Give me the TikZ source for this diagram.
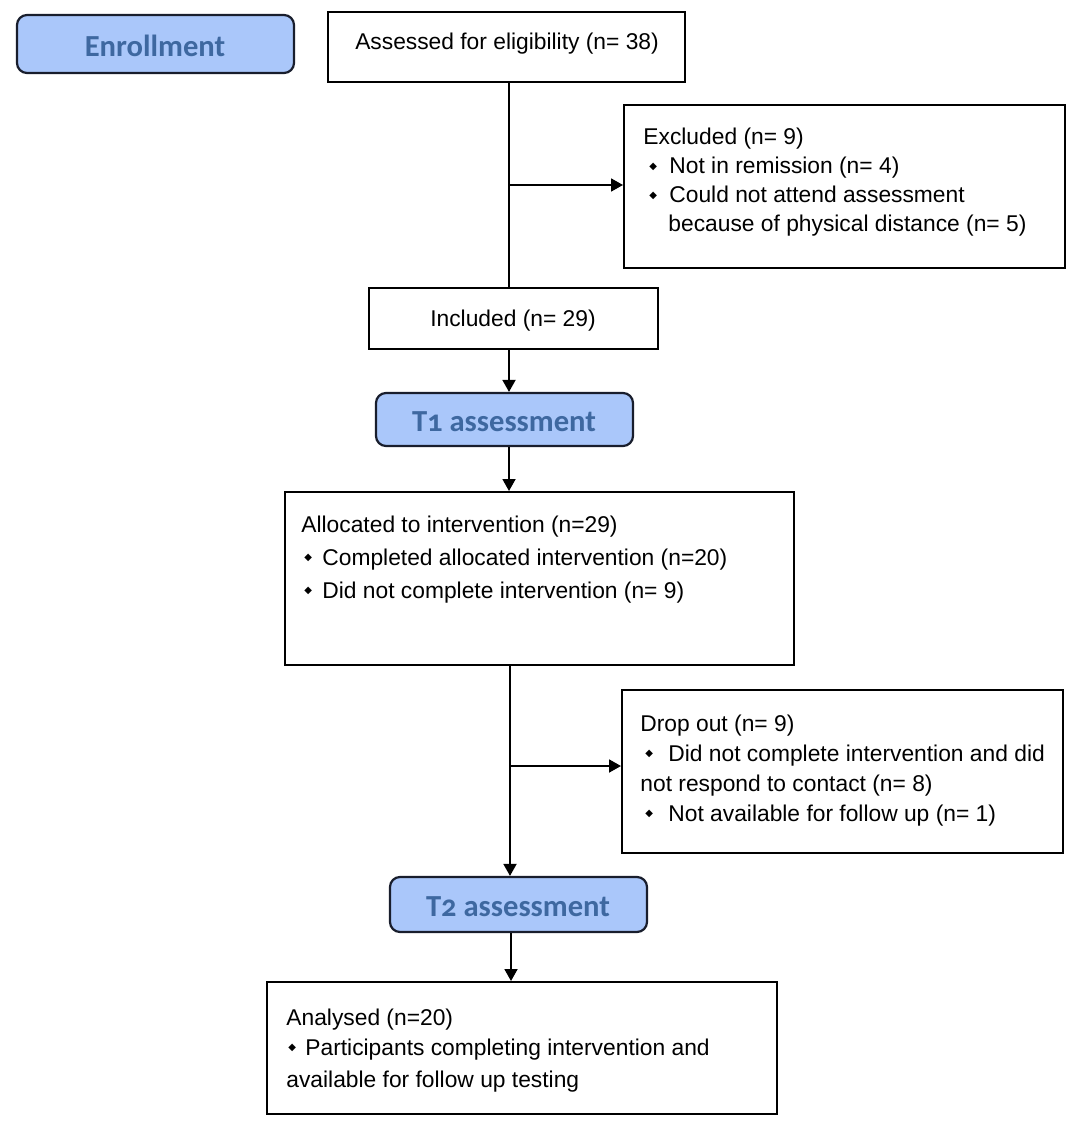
\documentclass[tikz,border=0pt]{standalone}
\usepackage{fontspec}
\setmainfont{Liberation Sans}
\newfontfamily\calib[Numbers=OldStyle]{Carlito}
\newfontfamily\symf{DejaVu Sans}
\usetikzlibrary{arrows.meta,fit}
\definecolor{bfill}{RGB}{170,199,250}
\definecolor{btext}{RGB}{62,104,160}
\definecolor{bdraw}{RGB}{25,30,45}
\newcommand{\dbul}[1]{\makebox[#1][l]{\raisebox{2.4pt}{\symf\fontsize{5}{5}\selectfont ◆}}}
\begin{document}
\begin{tikzpicture}[x=0.5pt,y=-0.5pt,
  box/.style={draw=black, line width=1pt, inner sep=0pt},
  bluebox/.style={draw=bdraw, fill=bfill, line width=1.1pt, rounded corners=5pt, inner sep=0pt},
  btxt/.style={inner sep=0pt, anchor=center, text=btext, font=\calib\bfseries\fontsize{15.3}{18}\selectfont},
  ctxt/.style={inner sep=0pt, anchor=center, font=\fontsize{11.4}{13}\selectfont},
  txt/.style={anchor=base west, inner sep=0pt, font=\fontsize{11.4}{13}\selectfont},
  ln/.style={line width=0.9pt},
  arr/.style={line width=0.9pt, -{Triangle[length=6pt,width=6.5pt]}}]
\useasboundingbox (0,0) rectangle (1084,1134);
\fill[white] (0,0) rectangle (1084,1134);

% boxes
\node[bluebox, fit={(17,15) (294,73)}] (enr) {};
\node[box, fit={(328,12) (685,82)}] (assess) {};
\node[box, fit={(624,105) (1065,268)}] (excl) {};
\node[box, fit={(369,288) (658,349)}] (incl) {};
\node[bluebox, fit={(376,393) (633,446)}] (t1) {};
\node[box, fit={(285,492) (794,665)}] (alloc) {};
\node[box, fit={(622,690) (1063,853)}] (drop) {};
\node[bluebox, fit={(390,877) (647,932)}] (t2) {};
\node[box, fit={(267,982) (777,1114)}] (anal) {};

% centred texts
\node[btxt] (enrT) at (155,46) {Enrollment};
\node[ctxt] (assessT) at (507,44) {Assessed for eligibility (n= 38)};
\node[ctxt] (inclT) at (513,321) {Included (n= 29)};
\node[btxt] (t1T) at (504,422) {T1 assessment};
\node[btxt] (t2T) at (518,907) {T2 assessment};

% texts
\node[txt] (ex1) at (643,145) {Excluded (n= 9)};
\node[txt] (ex2) at (649,174) {\dbul{10pt}Not in remission (n= 4)};
\node[txt] (ex3) at (649,203) {\dbul{10pt}Could not attend assessment};
\node[txt] (ex4) at (668,232) {because of physical distance (n= 5)};

\node[txt] (al1) at (301,532) {Allocated to intervention (n=29)};
\node[txt] (al2) at (304,565) {\dbul{9pt}Completed allocated intervention (n=20)};
\node[txt] (al3) at (304,598) {\dbul{9pt}Did not complete intervention (n= 9)};

\node[txt] (dr1) at (640,731) {Drop out (n= 9)};
\node[txt] (dr2) at (645,761) {\dbul{11.5pt}Did not complete intervention and did};
\node[txt] (dr3) at (640,791) {not respond to contact (n= 8)};
\node[txt] (dr4) at (645,821) {\dbul{11.5pt}Not available for follow up (n= 1)};

\node[txt] (an1) at (286,1025) {Analysed (n=20)};
\node[txt] (an2) at (288,1055) {\dbul{8.5pt}Participants completing intervention and};
\node[txt] (an3) at (286,1087) {available for follow up testing};

% connectors
\coordinate (ca) at (509,0);
\coordinate (cc) at (510,0);
\coordinate (cb) at (511,0);
\coordinate (j1) at (509,185);
\coordinate (j2) at (510,766);
\draw[ln] (assess.south -| ca) -- (incl.north -| ca);
\draw[arr] (j1) -- (excl.west |- j1);
\draw[arr] (incl.south -| ca) -- (t1.north -| ca);
\draw[arr] (t1.south -| ca) -- (alloc.north -| ca);
\draw[arr] (alloc.south -| cc) -- (t2.north -| cc);
\draw[arr] (j2) -- (drop.west |- j2);
\draw[arr] (t2.south -| cb) -- (anal.north -| cb);
\end{tikzpicture}
\end{document}
